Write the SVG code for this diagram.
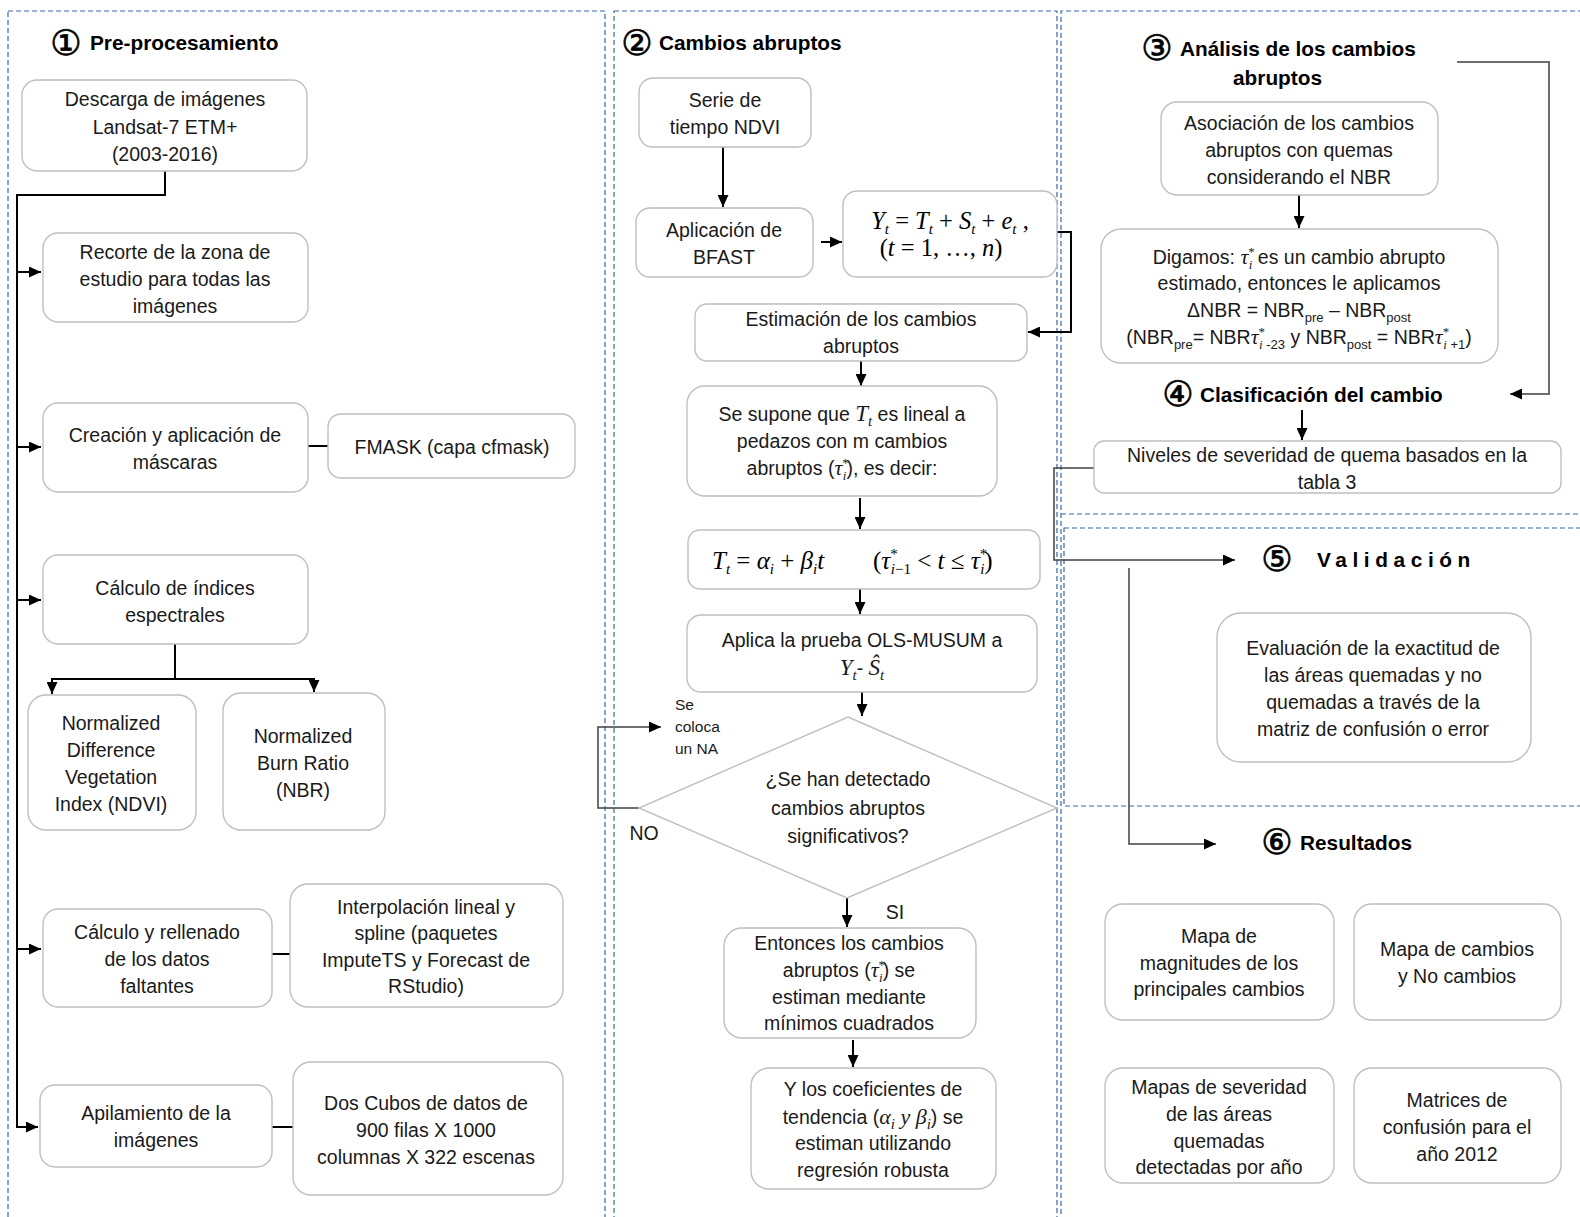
<svg xmlns="http://www.w3.org/2000/svg" width="1580" height="1217" viewBox="0 0 1580 1217">
<defs>
<marker id="ah" markerUnits="userSpaceOnUse" markerWidth="12" markerHeight="11" refX="12" refY="5.5" orient="auto">
<path d="M0,0 L12,5.5 L0,11 z" fill="#000"/>
</marker>
<style>
.panel{fill:none;stroke:#3a68a8;stroke-width:1.2;stroke-dasharray:5 3}
.box{fill:#fff;stroke:#bfbfbf;stroke-width:1.4}
.t{font-family:"Liberation Sans",Arial,sans-serif;font-size:19.5px;fill:#1a1a1a;text-anchor:middle}
.s{font-family:"Liberation Sans",Arial,sans-serif;font-size:15.5px;fill:#1a1a1a}
.h{font-family:"Liberation Sans",Arial,sans-serif;font-size:20.8px;font-weight:bold;fill:#000}
.c{font-family:"DejaVu Sans","Noto Sans CJK JP",sans-serif;font-size:35px;fill:#000;stroke:#000;stroke-width:0.7;text-anchor:middle}
.m{font-family:"Liberation Serif","Times New Roman",serif;font-style:italic}
.u{font-family:"Liberation Serif","Times New Roman",serif;font-style:normal}
.sb{font-size:13px}
.ms{font-size:15px}
.k{fill:none;stroke:#000;stroke-width:2}
.g{fill:none;stroke:#404040;stroke-width:1.5}
</style>
</defs>

<g id="panels">
<rect class="panel" x="8" y="11" width="597" height="1250"/>
<rect class="panel" x="614" y="11" width="443" height="1250"/>
<path class="panel" d="M1061,1230 V11 H1600 M1061,514 H1600"/>
<rect class="panel" x="1064" y="528" width="560" height="278"/>
</g>

<g id="titles">
<text id="t1"><tspan class="c" x="66" y="55">①</tspan><tspan class="h" x="90" y="50">Pre-procesamiento</tspan></text>
<text id="t2"><tspan class="c" x="637" y="55">②</tspan><tspan class="h" x="659" y="50">Cambios abruptos</tspan></text>
<text id="t3"><tspan class="c" x="1157" y="60">③</tspan><tspan class="h" x="1180" y="55.5">Análisis de los cambios</tspan></text>
<text class="h" x="1277.5" y="84.5" text-anchor="middle">abruptos</text>
<text id="t4"><tspan class="c" x="1178" y="406">④</tspan><tspan class="h" x="1200" y="401.5">Clasificación del cambio</tspan></text>
<text id="t5"><tspan class="c" x="1277" y="571">⑤</tspan><tspan class="h" x="1317" y="566.5" letter-spacing="5.6">Validación</tspan></text>
<text id="t6"><tspan class="c" x="1277" y="854">⑥</tspan><tspan class="h" x="1300" y="849.5">Resultados</tspan></text>
</g>

<g id="connectors">
<path class="k" d="M165,171 V195 H17 V1127 H38" marker-end="url(#ah)"/>
<path class="k" d="M17,272 H41" marker-end="url(#ah)"/>
<path class="k" d="M17,447 H41" marker-end="url(#ah)"/>
<path class="k" d="M17,600 H41" marker-end="url(#ah)"/>
<path class="k" d="M17,949 H41" marker-end="url(#ah)"/>
<path class="k" d="M308,446 H328"/>
<path class="k" d="M175,644 V679 M52,679 H314"/>
<path class="k" d="M52,678 V694" marker-end="url(#ah)"/>
<path class="k" d="M314,678 V692" marker-end="url(#ah)"/>
<path class="k" d="M272,954 H290"/>
<path class="k" d="M272,1127 H293"/>

<path class="k" d="M723,147 V207" marker-end="url(#ah)"/>
<path class="k" d="M821,242 H842" marker-end="url(#ah)"/>
<path class="k" d="M1057,232 H1071 V332 H1028" marker-end="url(#ah)"/>
<path class="k" d="M861,361 V386" marker-end="url(#ah)"/>
<path class="k" d="M860,498 V529" marker-end="url(#ah)"/>
<path class="k" d="M860,589 V614" marker-end="url(#ah)"/>
<path class="k" d="M862,692 V716" marker-end="url(#ah)"/>
<path class="g" d="M639,808 H598 V727 H661" marker-end="url(#ah)"/>
<path class="k" d="M847,898 V927" marker-end="url(#ah)"/>
<path class="k" d="M853,1040 V1067" marker-end="url(#ah)"/>

<path class="g" d="M1457,62 H1549 V394 H1510" marker-end="url(#ah)"/>
<path class="k" d="M1299,195 V228" marker-end="url(#ah)"/>
<path class="k" d="M1302,410 V440" marker-end="url(#ah)"/>
<path class="g" d="M1094,468 H1054 V560 H1235" marker-end="url(#ah)"/>
<path class="g" d="M1129,568 V844 H1216" marker-end="url(#ah)"/>
</g>

<g id="n-descarga"><rect class="box" x="22" y="80" width="285" height="91" rx="15"/>
<text class="t" x="165" y="106">Descarga de imágenes</text>
<text class="t" x="165" y="133.5">Landsat-7 ETM+</text>
<text class="t" x="165" y="161">(2003-2016)</text></g>

<g id="n-recorte"><rect class="box" x="43" y="233" width="265" height="89" rx="15"/>
<text class="t" x="175" y="259">Recorte de la zona de</text>
<text class="t" x="175" y="286">estudio para todas las</text>
<text class="t" x="175" y="313">imágenes</text></g>

<g id="n-creacion"><rect class="box" x="43" y="403" width="265" height="89" rx="15"/>
<text class="t" x="175" y="442">Creación y aplicación de</text>
<text class="t" x="175" y="469">máscaras</text></g>

<g id="n-fmask"><rect class="box" x="328" y="414" width="247" height="64" rx="13"/>
<text class="t" x="452" y="454">FMASK (capa cfmask)</text></g>

<g id="n-indices"><rect class="box" x="43" y="555" width="265" height="89" rx="15"/>
<text class="t" x="175" y="595">Cálculo de índices</text>
<text class="t" x="175" y="621.5">espectrales</text></g>

<g id="n-ndvi"><rect class="box" x="28" y="695" width="168" height="135" rx="18"/>
<text class="t" x="111" y="729.5">Normalized</text>
<text class="t" x="111" y="756.5">Difference</text>
<text class="t" x="111" y="783.5">Vegetation</text>
<text class="t" x="111" y="810.5">Index (NDVI)</text></g>

<g id="n-nbr"><rect class="box" x="223" y="693" width="162" height="137" rx="18"/>
<text class="t" x="303" y="742.5">Normalized</text>
<text class="t" x="303" y="769.5">Burn Ratio</text>
<text class="t" x="303" y="796.5">(NBR)</text></g>

<g id="n-rellenado"><rect class="box" x="43" y="909" width="229" height="98" rx="15"/>
<text class="t" x="157" y="939">Cálculo y rellenado</text>
<text class="t" x="157" y="966">de los datos</text>
<text class="t" x="157" y="993">faltantes</text></g>

<g id="n-interp"><rect class="box" x="290" y="884" width="273" height="123" rx="18"/>
<text class="t" x="426" y="913.5">Interpolación lineal y</text>
<text class="t" x="426" y="940">spline (paquetes</text>
<text class="t" x="426" y="966.5">ImputeTS y Forecast de</text>
<text class="t" x="426" y="993">RStudio)</text></g>

<g id="n-apilamiento"><rect class="box" x="40" y="1085" width="232" height="82" rx="15"/>
<text class="t" x="156" y="1119.5">Apilamiento de la</text>
<text class="t" x="156" y="1146.5">imágenes</text></g>

<g id="n-cubos"><rect class="box" x="293" y="1062" width="270" height="133" rx="18"/>
<text class="t" x="426" y="1109.5">Dos Cubos de datos de</text>
<text class="t" x="426" y="1136.5">900 filas  X 1000</text>
<text class="t" x="426" y="1163.5">columnas X 322 escenas</text></g>

<g id="n-serie"><rect class="box" x="639" y="78" width="172" height="69" rx="14"/>
<text class="t" x="725" y="106.5">Serie de</text>
<text class="t" x="725" y="133.5">tiempo NDVI</text></g>

<g id="n-bfast"><rect class="box" x="636" y="208" width="177" height="69" rx="14"/>
<text class="t" x="724" y="236.5">Aplicación de</text>
<text class="t" x="724" y="263.5">BFAST</text></g>

<g id="n-modelo"><rect class="box" x="843" y="191" width="214" height="86" rx="14"/>
<text class="m" x="950" y="229" font-size="24.5" text-anchor="middle">Y<tspan class="ms" dy="5">t</tspan><tspan class="u" dy="-5"> = </tspan>T<tspan class="ms" dy="5">t</tspan><tspan class="u" dy="-5"> + </tspan>S<tspan class="ms" dy="5">t</tspan><tspan class="u" dy="-5"> + </tspan>e<tspan class="ms" dy="5">t</tspan><tspan class="u" dy="-5"> ,</tspan></text>
<text class="u" x="941" y="256" font-size="24.5" text-anchor="middle">(<tspan class="m">t</tspan> = 1, …, <tspan class="m">n</tspan>)</text></g>

<g id="n-estimacion"><rect class="box" x="695" y="304" width="332" height="57" rx="12"/>
<text class="t" x="861" y="326">Estimación de los cambios</text>
<text class="t" x="861" y="352.5">abruptos</text></g>

<g id="n-supone"><rect class="box" x="687" y="386" width="310" height="110" rx="18"/>
<text class="t" x="842" y="421">Se supone que <tspan class="m" font-size="23">T</tspan><tspan class="m ms" dy="5">t</tspan><tspan dy="-5"> es lineal a</tspan></text>
<text class="t" x="842" y="448">pedazos con m cambios</text>
<text class="t" x="842" y="475">abruptos (<tspan class="m" font-size="22">τ</tspan><tspan class="u sb" dy="-8">*</tspan><tspan class="m sb" dx="-6" dy="13">i</tspan><tspan dy="-5">), es decir:</tspan></text></g>

<g id="n-tendencia"><rect class="box" x="688" y="530" width="352" height="59" rx="12"/>
<text class="m" x="712" y="569" font-size="25">T<tspan class="ms" dy="5">t</tspan><tspan class="u" dy="-5"> = </tspan>α<tspan class="ms" dy="5">i</tspan><tspan class="u" dy="-5"> + </tspan>β<tspan class="ms" dy="5">i</tspan><tspan dy="-5">t</tspan><tspan class="u" x="873">(</tspan>τ<tspan class="u ms" dy="-10">*</tspan><tspan class="ms" dx="-7" dy="15">i</tspan><tspan class="u ms">−1</tspan><tspan class="u" dy="-5"> &lt; </tspan>t<tspan class="u"> ≤ </tspan>τ<tspan class="u ms" dy="-10">*</tspan><tspan class="ms" dx="-7" dy="15">i</tspan><tspan class="u" dy="-5">)</tspan></text></g>

<g id="n-olsmusum"><rect class="box" x="687" y="615" width="350" height="77" rx="14"/>
<text class="t" x="862" y="647">Aplica la prueba OLS-MUSUM a</text>
<text class="t" x="862" y="675"><tspan class="m" font-size="23">Y</tspan><tspan class="m ms" dy="5">t</tspan><tspan dy="-5">- </tspan><tspan class="m" font-size="23">Ŝ</tspan><tspan class="m ms" dy="5">t</tspan></text></g>

<g id="n-decision"><polygon points="848,717 1057,808 847,898 639,808" fill="#fff" stroke="#bfbfbf" stroke-width="1.4"/>
<text class="t" x="848" y="786">¿Se han detectado</text>
<text class="t" x="848" y="815">cambios abruptos</text>
<text class="t" x="848" y="842.5">significativos?</text></g>

<g id="n-na"><text class="s" x="675" y="709.5">Se</text>
<text class="s" x="675" y="731.5">coloca</text>
<text class="s" x="675" y="753.5">un NA</text></g>
<text class="t" x="644" y="840">NO</text>
<text class="t" x="895" y="919">SI</text>

<g id="n-entonces"><rect class="box" x="724" y="928" width="252" height="110" rx="18"/>
<text class="t" x="849" y="950">Entonces los cambios</text>
<text class="t" x="849" y="977">abruptos (<tspan class="m" font-size="22">τ</tspan><tspan class="u sb" dy="-8">*</tspan><tspan class="m sb" dx="-6" dy="13">i</tspan><tspan dy="-5">) se</tspan></text>
<text class="t" x="849" y="1004">estiman mediante</text>
<text class="t" x="849" y="1030">mínimos cuadrados</text></g>

<g id="n-coef"><rect class="box" x="751" y="1068" width="245" height="121" rx="18"/>
<text class="t" x="873" y="1096">Y los coeficientes de</text>
<text class="t" x="873" y="1123.5">tendencia (<tspan class="m" font-size="22">α</tspan><tspan class="m ms" dy="5">i</tspan><tspan class="m" font-size="22" dy="-5"> y β</tspan><tspan class="m ms" dy="5">i</tspan><tspan dy="-5">) se</tspan></text>
<text class="t" x="873" y="1150">estiman utilizando</text>
<text class="t" x="873" y="1177">regresión  robusta</text></g>

<g id="n-asociacion"><rect class="box" x="1161" y="102" width="277" height="93" rx="16"/>
<text class="t" x="1299" y="130">Asociación de los cambios</text>
<text class="t" x="1299" y="157">abruptos con quemas</text>
<text class="t" x="1299" y="184">considerando el NBR</text></g>

<g id="n-digamos"><rect class="box" x="1101" y="229" width="397" height="134" rx="20"/>
<text class="t" x="1299" y="263.5">Digamos: <tspan class="m" font-size="22">τ</tspan><tspan class="u sb" dy="-8">*</tspan><tspan class="m sb" dx="-6" dy="13">i</tspan><tspan dy="-5">  es un cambio abrupto</tspan></text>
<text class="t" x="1299" y="290">estimado, entonces le aplicamos</text>
<text class="t" x="1299" y="316.5">ΔNBR = NBR<tspan class="sb" dy="5">pre</tspan><tspan dy="-5"> – NBR</tspan><tspan class="sb" dy="5">post</tspan></text>
<text class="t" x="1299" y="344">(NBR<tspan class="sb" dy="5">pre</tspan><tspan dy="-5">= NBR</tspan><tspan class="m" font-size="22">τ</tspan><tspan class="u sb" dy="-8">*</tspan><tspan class="m sb" dx="-6" dy="13">i</tspan><tspan class="sb"> -23</tspan><tspan dy="-5"> y NBR</tspan><tspan class="sb" dy="5">post</tspan><tspan dy="-5"> = NBR</tspan><tspan class="m" font-size="22">τ</tspan><tspan class="u sb" dy="-8">*</tspan><tspan class="m sb" dx="-6" dy="13">i</tspan><tspan class="sb"> +1</tspan><tspan dy="-5">)</tspan></text></g>

<g id="n-niveles"><rect class="box" x="1094" y="441" width="467" height="52" rx="10"/>
<text class="t" x="1327" y="462">Niveles de severidad de quema basados en la</text>
<text class="t" x="1327" y="489">tabla 3</text></g>

<g id="n-evaluacion"><rect class="box" x="1217" y="613" width="314" height="149" rx="24"/>
<text class="t" x="1373" y="655">Evaluación de la exactitud de</text>
<text class="t" x="1373" y="682">las áreas quemadas y no</text>
<text class="t" x="1373" y="709">quemadas a través de la</text>
<text class="t" x="1373" y="735.5">matriz de confusión o error</text></g>

<g id="n-magnitudes"><rect class="box" x="1105" y="904" width="229" height="116" rx="18"/>
<text class="t" x="1219" y="943">Mapa de</text>
<text class="t" x="1219" y="969.5">magnitudes de los</text>
<text class="t" x="1219" y="996">principales cambios</text></g>

<g id="n-cambios"><rect class="box" x="1354" y="904" width="207" height="116" rx="18"/>
<text class="t" x="1457" y="956">Mapa de cambios</text>
<text class="t" x="1457" y="983">y No cambios</text></g>

<g id="n-severidad"><rect class="box" x="1105" y="1068" width="229" height="115" rx="18"/>
<text class="t" x="1219" y="1094">Mapas de severidad</text>
<text class="t" x="1219" y="1121">de las áreas</text>
<text class="t" x="1219" y="1148">quemadas</text>
<text class="t" x="1219" y="1174">detectadas por año</text></g>

<g id="n-matrices"><rect class="box" x="1354" y="1068" width="207" height="115" rx="18"/>
<text class="t" x="1457" y="1107">Matrices de</text>
<text class="t" x="1457" y="1134">confusión para el</text>
<text class="t" x="1457" y="1160.5">año 2012</text></g>
</svg>
